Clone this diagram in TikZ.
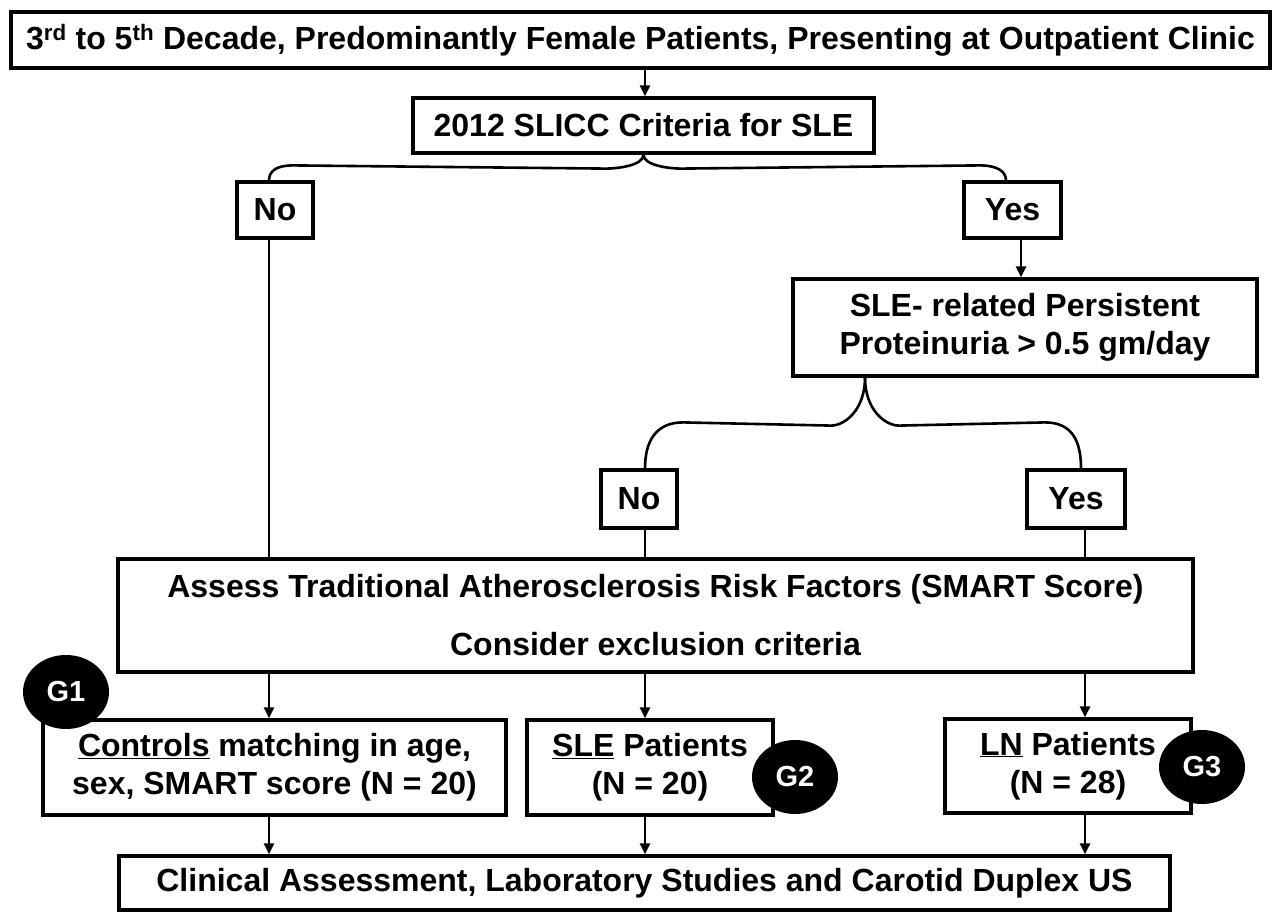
\documentclass[tikz,border=0pt]{standalone}
\usepackage{fontspec}
\setmainfont{Liberation Sans}
\usetikzlibrary{arrows.meta,calc,shapes.geometric}
\begin{document}
\begin{tikzpicture}[x=1pt,y=-1pt,
  box/.style={draw, line width=3.2pt, align=center, inner sep=0pt,
    font=\fontsize{32}{38}\selectfont\bfseries},
  ln/.style={line width=2.6pt},
  arr/.style={ln, -{Triangle[length=11pt,width=10pt]}},
  gmark/.style={ellipse, fill=black, minimum width=86pt, minimum height=74pt,
    inner sep=0pt, text=white, font=\fontsize{29}{30}\selectfont\bfseries}]
\useasboundingbox (0,0) rectangle (1273,912);
\fill[white] (0,0) rectangle (1273,912);
% column coordinates
\coordinate (colA) at (269,0);
\coordinate (colB) at (645,0);
\coordinate (colC) at (1085,0);
\coordinate (colY) at (1021,0);
\coordinate (tipB) at (865,0);
\coordinate (yesE) at (1006,0);
\coordinate (yesF) at (1081,0);
% boxes
\node[box, minimum width=1259pt, minimum height=56pt] (top) at (640.5,40)
  {3\textsuperscript{rd} to 5\textsuperscript{th} Decade, Predominantly Female Patients, Presenting at Outpatient Clinic};
\node[box, minimum width=461pt, minimum height=55pt] (slicc) at (643.5,125.5) {2012 SLICC Criteria for SLE};
\node[box, minimum width=76pt, minimum height=56pt] (no1) at (275,210) {No};
\node[box, minimum width=97pt, minimum height=56pt] (yes1) at (1012.5,210) {Yes};
\node[box, minimum width=464pt, minimum height=97pt] (sler) at (1025,327.5)
  {SLE- related Persistent\\Proteinuria > 0.5 gm/day};
\node[box, minimum width=76pt, minimum height=58pt] (no2) at (639,499) {No};
\node[box, minimum width=98pt, minimum height=58pt] (yes2) at (1076,499) {Yes};
\node[box, minimum width=1075pt, minimum height=113pt] (assess) at (655.5,615.5)
  {Assess Traditional Atherosclerosis Risk Factors (SMART Score)\\[20pt]Consider exclusion criteria};
\node[box, minimum width=463pt, minimum height=95pt] (ctrl) at (274.5,767.5)
  {\underline{Controls} matching in age,\\sex, SMART score (N = 20)};
\node[box, minimum width=246pt, minimum height=95pt] (slep) at (650,767.5)
  {\underline{SLE} Patients\\(N = 20)};
\node[box, minimum width=246pt, minimum height=94pt] (lnp) at (1068,766)
  {\underline{LN} Patients\\(N = 28)};
\node[box, minimum width=1051pt, minimum height=54pt] (clin) at (644.5,883)
  {Clinical Assessment, Laboratory Studies and Carotid Duplex US};
% connectors
\draw[arr] (colB |- top.south) -- (colB |- slicc.north);
\draw[ln] (slicc.south) .. controls +(0,11) and +(12,0) .. ($(slicc.south)+(-38,14)$)
  -- ($(colA |- no1.north)+(24,-15)$) .. controls +(-17,0) and +(0,-9) .. (colA |- no1.north);
\draw[ln] (slicc.south) .. controls +(0,11) and +(-12,0) .. ($(slicc.south)+(38,14)$)
  -- ($(yesE |- yes1.north)+(-26,-15)$) .. controls +(17,0) and +(0,-9) .. (yesE |- yes1.north);
\draw[arr] (colY |- yes1.south) -- (colY |- sler.north);
\draw[ln] (tipB |- sler.south) .. controls +(0,32) and +(14,0) .. ($(tipB |- sler.south)+(-34,48)$)
  -- ($(colB |- no2.north)+(38,-46)$) .. controls +(-28,0) and +(0,-26) .. (colB |- no2.north);
\draw[ln] (tipB |- sler.south) .. controls +(0,32) and +(-14,0) .. ($(tipB |- sler.south)+(34,48)$)
  -- ($(yesF |- yes2.north)+(-36,-46)$) .. controls +(28,0) and +(0,-26) .. (yesF |- yes2.north);
\draw[ln] (colA |- no1.south) -- (colA |- assess.north);
\draw[ln] (colB |- no2.south) -- (colB |- assess.north);
\draw[ln] (colC |- yes2.south) -- (colC |- assess.north);
\draw[arr] (colA |- assess.south) -- (colA |- ctrl.north);
\draw[arr] (colB |- assess.south) -- (colB |- slep.north);
\draw[arr] (colC |- assess.south) -- (colC |- lnp.north);
\draw[arr] (colA |- ctrl.south) -- (colA |- clin.north);
\draw[arr] (colB |- slep.south) -- (colB |- clin.north);
\draw[arr] (colC |- lnp.south) -- (colC |- clin.north);
% group markers, on top of the boxes
\node[gmark] (g1) at (66,692) {G1};
\node[gmark] (g2) at (795,777) {G2};
\node[gmark] (g3) at (1202,767) {G3};
\end{tikzpicture}
\end{document}
